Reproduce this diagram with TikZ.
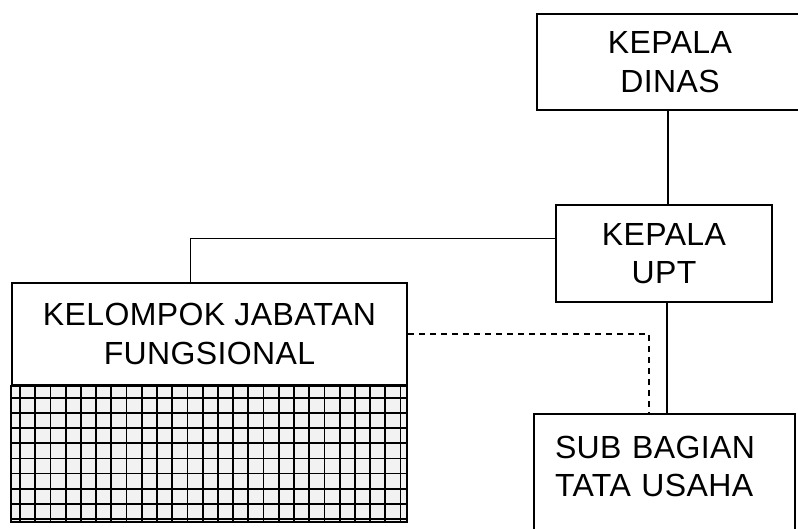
\documentclass[tikz,border=0pt]{standalone}
\usepackage{fontspec}
\setmainfont[LetterSpace=1.2]{Liberation Sans}
\begin{document}
\begin{tikzpicture}[x=1pt,y=-1pt,
  box/.style={draw=black,line width=2pt,fill=white,align=center,inner sep=0pt,font=\fontsize{32}{38.5}\selectfont},
  conn/.style={draw=black,line width=2pt},
  thin/.style={draw=black,line width=1.2pt},
  dashline/.style={draw=black,line width=1.5pt,dash pattern=on 6pt off 5pt}]
\useasboundingbox (0,0) rectangle (798,529);
% nodes
\node[box,minimum width=266pt,minimum height=96pt] (dinas) at (670,62) {KEPALA\\DINAS};
\node[box,minimum width=216pt,minimum height=97pt] (upt) at (664,253.5) {KEPALA\\UPT};
\node[box,minimum width=395pt,minimum height=102pt] (kjf) at (209.5,334) {KELOMPOK JABATAN\\FUNGSIONAL};
\node[box,minimum width=261pt,minimum height=118pt,text width=219pt,text depth=52pt,align=left] (sbtu) at (664.5,473) {SUB BAGIAN\\TATA USAHA};
% grid part of kjf
\coordinate (g1) at (12,385);
\coordinate (g2) at (407,522);
\fill[gray!10] (g1) rectangle (g2);
\begin{scope}
\clip (g1) rectangle (g2);
\foreach \i in {0,...,25} {\draw[line width=1.8pt] (20+\i*15.22,385) -- (20+\i*15.22,522);}
\foreach \j in {0,...,8} {\draw[line width=1.8pt] (12,398+\j*15.1) -- (407,398+\j*15.1);}
\end{scope}
\draw[line width=2pt] (kjf.south west) rectangle (g2);
% connectors
\draw[conn] ([xshift=4pt]upt.north) -- ([xshift=4pt]upt.north |- dinas.south);
\draw[thin] ([yshift=15pt]upt.west) -| ([xshift=-19pt]kjf.north);
\draw[conn] ([xshift=3pt]upt.south) -- ([xshift=3pt]upt.south |- sbtu.north);
\draw[dashline] (kjf.east) -| ([xshift=-15.5pt]sbtu.north);
\end{tikzpicture}
\end{document}
